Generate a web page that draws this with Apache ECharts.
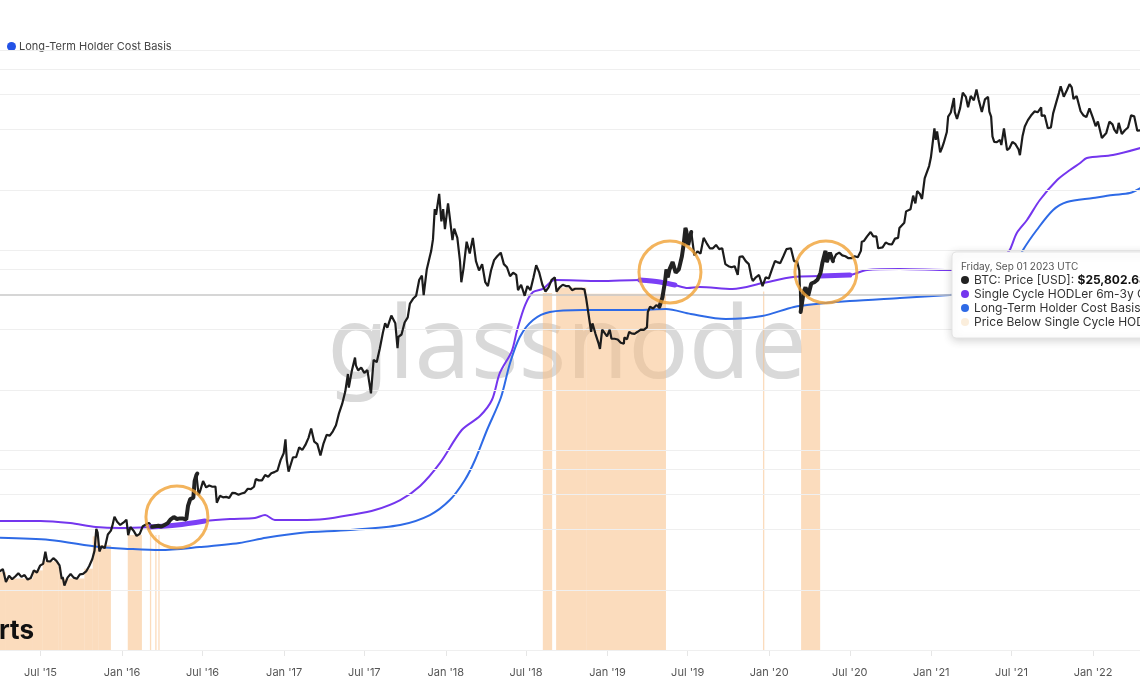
<!DOCTYPE html>
<html><head><meta charset="utf-8">
<script src="https://cdn.jsdelivr.net/npm/echarts@6/dist/echarts.min.js"></script>
<style>html,body{margin:0;padding:0;background:#fff}#c{width:1140px;height:694px}</style>
</head><body><div id="c"></div>
<script>
// ---- data ----
const btcPrice = [
['2015-03-31',247],['2015-04-07',254],['2015-04-14',219],['2015-04-21',235],['2015-04-28',226],['2015-05-05',233],['2015-05-12',242],['2015-05-19',232],['2015-05-26',237],['2015-06-02',225],['2015-06-09',229],['2015-06-16',250],['2015-06-23',244],['2015-06-30',264],['2015-07-07',270],['2015-07-12',310],['2015-07-16',278],['2015-07-23',277],['2015-07-30',288],['2015-08-06',279],['2015-08-13',265],['2015-08-18',226],['2015-08-20',232],['2015-08-24',210],['2015-08-31',230],['2015-09-07',240],['2015-09-14',230],['2015-09-21',227],['2015-09-28',239],['2015-10-05',240],['2015-10-12',247],['2015-10-19',263],['2015-10-26',285],['2015-10-31',314],['2015-11-04',403],['2015-11-07',386],['2015-11-11',311],['2015-11-16',330],['2015-11-23',323],['2015-11-30',378],['2015-12-07',395],['2015-12-10',416],['2015-12-15',464],['2015-12-21',438],['2015-12-28',422],
['2016-01-04',433],['2016-01-11',448],['2016-01-15',375],['2016-01-20',412],['2016-01-27',395],['2016-02-03',372],['2016-02-10',381],['2016-02-17',416],['2016-02-24',424],['2016-03-02',432],['2016-03-09',413],['2016-03-16',416],['2016-03-23',418],['2016-03-30',414],['2016-04-06',422],['2016-04-13',430],['2016-04-20',450],['2016-04-27',462],['2016-05-04',452],['2016-05-11',455],['2016-05-18',454],['2016-05-25',449],['2016-05-29',525],['2016-06-03',568],['2016-06-10',577],['2016-06-13',700],['2016-06-17',750],['2016-06-19',763],['2016-06-22',594],['2016-06-26',630],['2016-07-02',700],['2016-07-09',650],['2016-07-16',664],['2016-07-23',655],['2016-07-30',656],['2016-08-02',545],['2016-08-09',590],['2016-08-16',580],['2016-08-23',583],['2016-08-30',576],['2016-09-06',610],['2016-09-13',608],['2016-09-20',598],['2016-09-27',606],['2016-10-04',612],['2016-10-11',640],['2016-10-18',637],['2016-10-25',655],['2016-10-29',715],['2016-11-05',705],['2016-11-12',705],['2016-11-19',750],['2016-11-26',735],['2016-12-03',765],['2016-12-10',775],['2016-12-17',790],['2016-12-24',890],['2016-12-31',963],
['2017-01-04',1130],['2017-01-07',890],['2017-01-11',780],['2017-01-14',820],['2017-01-21',920],['2017-01-28',920],['2017-02-04',1030],['2017-02-11',1000],['2017-02-18',1060],['2017-02-25',1150],['2017-03-03',1280],['2017-03-10',1100],['2017-03-17',1070],['2017-03-24',940],['2017-03-31',1080],['2017-04-07',1190],['2017-04-14',1180],['2017-04-21',1240],['2017-04-28',1330],['2017-05-05',1530],['2017-05-12',1700],['2017-05-19',1960],['2017-05-25',2400],['2017-05-27',2050],['2017-06-03',2500],['2017-06-10',2900],['2017-06-12',2650],['2017-06-17',2500],['2017-06-24',2580],['2017-07-01',2430],['2017-07-08',2510],['2017-07-16',1920],['2017-07-22',2820],['2017-07-29',2750],['2017-08-05',3220],['2017-08-12',3870],['2017-08-17',4300],['2017-08-22',4090],['2017-08-31',4700],['2017-09-09',4300],['2017-09-14',3230],['2017-09-16',3680],['2017-09-23',3780],['2017-09-30',4340],['2017-10-07',4600],['2017-10-12',5400],['2017-10-19',5700],['2017-10-26',5900],['2017-11-02',7100],['2017-11-08',7450],['2017-11-12',5950],['2017-11-19',8000],['2017-11-26',9300],['2017-11-29',9900],['2017-12-03',11300],['2017-12-07',16000],['2017-12-10',15000],['2017-12-17',19100],['2017-12-22',13900],['2017-12-26',16000],['2017-12-30',12700],
['2018-01-06',17100],['2018-01-10',14500],['2018-01-16',11200],['2018-01-20',12800],['2018-01-27',11500],['2018-02-02',8800],['2018-02-05',6900],['2018-02-10',8100],['2018-02-17',11000],['2018-02-24',9600],['2018-03-03',11500],['2018-03-10',8800],['2018-03-17',7900],['2018-03-24',8500],['2018-03-31',6900],['2018-04-06',6600],['2018-04-13',7900],['2018-04-20',8900],['2018-04-27',9300],['2018-05-05',9700],['2018-05-12',8500],['2018-05-19',8200],['2018-05-26',7400],['2018-06-02',7700],['2018-06-09',7500],['2018-06-13',6300],['2018-06-20',6700],['2018-06-28',5900],['2018-07-04',6600],['2018-07-11',6300],['2018-07-18',7300],['2018-07-24',8400],['2018-07-31',7700],['2018-08-07',6700],['2018-08-14',6200],['2018-08-21',6500],['2018-08-28',7100],['2018-09-04',7300],['2018-09-08',6200],['2018-09-15',6500],['2018-09-22',6700],['2018-09-29',6600],['2018-10-06',6600],['2018-10-13',6300],['2018-10-20',6400],['2018-10-27',6400],['2018-11-03',6400],['2018-11-10',6350],['2018-11-14',5700],['2018-11-19',4800],['2018-11-25',3900],['2018-11-28',4300],['2018-12-05',3800],['2018-12-12',3400],['2018-12-15',3200],['2018-12-20',4000],['2018-12-24',4000],['2018-12-31',3700],
['2019-01-06',4000],['2019-01-10',3600],['2019-01-17',3600],['2019-01-24',3570],['2019-01-31',3440],['2019-02-07',3400],['2019-02-08',3650],['2019-02-14',3580],['2019-02-19',3900],['2019-02-24',3830],['2019-03-03',3810],['2019-03-10',3900],['2019-03-17',4000],['2019-03-24',3990],['2019-03-31',4100],['2019-04-02',4900],['2019-04-07',5200],['2019-04-14',5100],['2019-04-21',5300],['2019-04-28',5200],['2019-05-05',5800],['2019-05-11',7000],['2019-05-14',8000],['2019-05-17',7300],['2019-05-21',8000],['2019-05-28',8700],['2019-06-04',7700],['2019-06-11',8000],['2019-06-18',9300],['2019-06-22',10700],['2019-06-26',12900],['2019-06-28',12400],['2019-07-02',10600],['2019-07-09',12300],['2019-07-16',9400],['2019-07-23',9850],['2019-07-30',9600],['2019-08-06',11500],['2019-08-13',10800],['2019-08-20',10200],['2019-08-27',10200],['2019-09-03',10600],['2019-09-10',10100],['2019-09-17',10200],['2019-09-24',8500],['2019-10-01',8300],['2019-10-08',8200],['2019-10-15',8300],['2019-10-22',7500],['2019-10-26',9250],['2019-11-02',9300],['2019-11-09',8800],['2019-11-16',8500],['2019-11-22',7300],['2019-11-25',7000],['2019-12-02',7300],['2019-12-09',7500],['2019-12-17',6600],['2019-12-24',7300],['2019-12-31',7200],
['2020-01-03',7300],['2020-01-08',8100],['2020-01-14',8800],['2020-01-19',8700],['2020-01-26',8600],['2020-02-02',9300],['2020-02-09',10100],['2020-02-13',10300],['2020-02-19',10200],['2020-02-26',8800],['2020-03-04',8750],['2020-03-09',7900],['2020-03-12',4900],['2020-03-16',5000],['2020-03-19',6200],['2020-03-23',6500],['2020-03-29',5900],['2020-04-05',6800],['2020-04-12',6900],['2020-04-19',7100],['2020-04-26',7700],['2020-04-30',8600],['2020-05-07',9900],['2020-05-10',8700],['2020-05-17',9700],['2020-05-24',8800],['2020-05-31',9500],['2020-06-07',9700],['2020-06-14',9400],['2020-06-21',9300],['2020-06-28',9100],['2020-07-05',9100],['2020-07-12',9300],['2020-07-19',9200],['2020-07-26',9900],['2020-07-28',11000],['2020-08-02',11100],['2020-08-09',11700],['2020-08-17',12300],['2020-08-23',11700],['2020-08-30',11700],['2020-09-03',10200],['2020-09-06',10250],['2020-09-13',10300],['2020-09-20',10900],['2020-09-27',10700],['2020-10-04',10650],['2020-10-11',11400],['2020-10-18',11500],['2020-10-21',12900],['2020-10-25',13000],['2020-11-01',13700],['2020-11-05',15600],['2020-11-08',15500],['2020-11-15',16000],['2020-11-21',18700],['2020-11-26',17100],['2020-11-30',19700],['2020-12-06',19100],['2020-12-11',18000],['2020-12-17',22800],['2020-12-20',23800],['2020-12-27',26300],['2020-12-31',29000],
['2021-01-03',32800],['2021-01-08',40600],['2021-01-11',35500],['2021-01-14',39200],['2021-01-21',30800],['2021-01-25',32300],['2021-01-29',34300],['2021-02-05',38900],['2021-02-08',46400],['2021-02-14',48700],['2021-02-21',57500],['2021-02-23',48900],['2021-02-28',45200],['2021-03-07',51200],['2021-03-13',61200],['2021-03-20',58300],['2021-03-25',51700],['2021-03-31',58900],['2021-04-07',56000],['2021-04-13',63500],['2021-04-18',56200],['2021-04-25',49000],['2021-05-02',56600],['2021-05-09',58300],['2021-05-12',49200],['2021-05-16',46400],['2021-05-19',37000],['2021-05-23',34700],['2021-05-29',34600],['2021-06-05',35500],['2021-06-08',33500],['2021-06-14',40500],['2021-06-21',31600],['2021-06-26',32200],['2021-07-03',34700],['2021-07-10',33800],['2021-07-17',31800],['2021-07-20',29800],['2021-07-26',37200],['2021-07-31',41500],['2021-08-07',44600],['2021-08-14',47000],['2021-08-22',49300],['2021-08-29',48800],['2021-09-06',51700],['2021-09-07',46800],['2021-09-14',47100],['2021-09-21',40600],['2021-09-28',41000],['2021-10-03',48200],['2021-10-10',54700],['2021-10-16',60900],['2021-10-20',65900],['2021-10-27',58400],['2021-11-03',62900],['2021-11-09',67500],['2021-11-14',65000],['2021-11-18',56900],['2021-11-25',58900],['2021-11-29',57800],['2021-12-04',49400],['2021-12-10',47200],['2021-12-17',46200],['2021-12-24',51000],['2021-12-31',46300],
['2022-01-07',41600],['2022-01-12',43900],['2022-01-21',36300],['2022-01-24',36700],['2022-01-31',38500],['2022-02-07',43800],['2022-02-10',43600],['2022-02-14',42500],['2022-02-18',40000],['2022-02-24',38300],['2022-02-28',43200],['2022-03-07',38000],['2022-03-14',39700],['2022-03-21',41000],['2022-03-28',47100],['2022-04-04',46600],['2022-04-11',39500],['2022-04-18',39700]
];

const singleCycleCostBasis = [
['2015-03-31',442],['2015-07-01',442],['2015-09-06',431],['2015-11-03',412],['2015-12-27',407],['2016-03-04',412],['2016-05-04',422],['2016-07-06',442],['2016-09-01',452],['2016-10-27',457],['2016-11-19',473],['2016-12-11',447],['2017-02-06',447],['2017-04-03',452],['2017-05-30',473],['2017-07-25',501],['2017-09-20',562],['2017-11-04',661],['2017-12-19',862],['2018-02-06',1259],['2018-03-19',1479],['2018-04-15',1778],['2018-05-03',2427],['2018-05-30',3126],['2018-06-11',3981],['2018-06-29',5308],['2018-07-17',6166],['2018-08-08',6387],['2018-09-04',7079],['2018-12-15',6998],['2019-03-15',7079],['2019-04-29',6918],['2019-06-02',6683],['2019-07-01',6457],['2019-07-28',6531],['2019-10-10',6382],['2019-12-18',6839],['2020-02-24',7328],['2020-04-25',7413],['2020-07-01',7499],['2020-08-09',7943],['2020-10-22',8035],['2021-02-12',7943],['2021-05-13',8414],['2021-06-16',9441],['2021-06-27',10000],['2021-07-13',12162],['2021-08-05',14125],['2021-09-03',17783],['2021-10-12',22387],['2021-11-10',25119],['2021-12-03',27227],['2021-12-18',28840],['2022-02-15',29854],['2022-04-18',32359]
];

const lthCostBasis = [
['2015-03-31',364],['2015-07-22',355],['2015-11-11',327],['2016-01-19',320],['2016-03-27',316],['2016-06-24',327],['2016-09-22',343],['2016-11-21',364],['2017-02-06',385],['2017-05-30',398],['2017-09-20',422],['2017-11-26',473],['2018-01-10',562],['2018-02-13',708],['2018-03-08',891],['2018-04-04',1259],['2018-05-05',1820],['2018-05-26',2723],['2018-06-17',3673],['2018-07-17',4467],['2018-08-24',4898],['2018-11-07',5012],['2019-03-09',5012],['2019-05-13',5070],['2019-07-08',4786],['2019-09-25',4519],['2019-12-16',4677],['2020-02-26',5188],['2020-04-16',5370],['2020-07-01',5559],['2020-10-22',5754],['2021-02-12',5957],['2021-05-13',6166],['2021-06-27',7499],['2021-07-27',10000],['2021-08-27',12589],['2021-10-03',15849],['2021-11-03',17378],['2022-01-01',18197],['2022-02-15',18836],['2022-03-25',19275],['2022-04-18',20417]
];

// [start, end, top value] of the "price below single cycle cost basis" columns
const belowCostBasisRanges = [
['2015-03-31','2015-04-14',245],['2015-04-14','2015-06-14',228],['2015-06-14','2015-07-06',250],['2015-07-06','2015-08-10',278],['2015-08-10','2015-08-17',260],['2015-08-17','2015-10-08',228],['2015-10-08','2015-10-27',255],['2015-10-27','2015-11-09',370],['2015-11-09','2015-12-07',335],
['2016-01-14','2016-02-15',376],['2016-03-04','2016-03-05',376],['2016-03-16','2016-03-17',376],['2016-03-23','2016-03-24',376],
['2018-08-08','2018-08-29',6100],['2018-09-07','2018-11-14',6500],['2018-11-14','2019-05-13',6050],
['2019-12-18','2019-12-19',6200],['2020-03-13','2020-04-25',5400]
];

const yGridValues = [100,200,400,600,800,1000,2000,4000,8000,10000,20000,40000,60000,80000,100000];
const crosshairValue = 6000;
const annotationPoints = [['2016-05-04',462],['2019-05-22',7762],['2020-05-08',7762]];
const purpleHighlightRanges = [['2016-03-04','2016-07-06'],['2019-03-15','2019-06-20'],['2020-03-10','2020-07-06']];
const priceHighlightRanges = [['2016-03-09','2016-06-19'],['2019-04-28','2019-07-12'],['2020-03-12','2020-05-25']];
const monthNames = ['Jan','Feb','Mar','Apr','May','Jun','Jul','Aug','Sep','Oct','Nov','Dec'];

// ---- helpers ----
const T = s => Date.parse(s);
const toPts = arr => arr.map(d => [T(d[0]), d[1]]);
function within(arr, ranges){
  const out = [];
  ranges.forEach(r => {
    const a = T(r[0]), b = T(r[1]);
    arr.forEach(d => { const t = T(d[0]); if (t >= a && t <= b) out.push([t, d[1]]); });
    out.push([ (a+b)/2, null ]);
  });
  return out;
}
const xMin = Date.UTC(2015,2,31,14);
const xMax = Date.UTC(2022,3,17,2);
const yMin = 100, yMax = 100000;
const C = {price:'#1c1c1c', purple:'#7436ee', blue:'#2e6ae6', bar:'rgba(248,192,134,0.55)', ring:'#f0a134'};
const FONT = 'Inter, "Noto Sans", sans-serif';
const TT = {fontSize:12, fontFamily:'Inter', fill:'#333', verticalAlign:'middle', textVerticalAlign:'middle'};

const chart = echarts.init(document.getElementById('c'), null, {renderer:'canvas'});
chart.setOption({
  animation:false,
  useUTC:true,
  backgroundColor:'#fff',
  grid:{left:0,right:0,top:50,bottom:44},
  legend:{
    data:['Long-Term Holder Cost Basis'], left:2, top:36, icon:'circle', itemWidth:9, itemHeight:9, itemGap:10,
    textStyle:{fontSize:11,color:'#444',fontFamily:FONT, padding:[0,0,0,-2]}, selectedMode:false
  },
  xAxis:{
    type:'time', min:xMin, max:xMax,
    minInterval:180*864e5, maxInterval:186*864e5,
    axisLine:{show:true,lineStyle:{color:'#e6e6e6'}},
    axisTick:{show:true,length:6,lineStyle:{color:'#e6e6e6'}},
    splitLine:{show:false},
    axisLabel:{
      color:'#555', fontSize:11, fontFamily:FONT, margin:17,
      formatter: v => { const d = new Date(v); return monthNames[d.getUTCMonth()] + " '" + String(d.getUTCFullYear()).slice(2); }
    }
  },
  yAxis:{type:'log', logBase:10, min:yMin, max:yMax, axisLabel:{show:false}, axisLine:{show:false}, axisTick:{show:false}, splitLine:{show:false}},
  graphic:[
    {type:'text', x:567, y:350, z:0, silent:true, style:{text:'glassnode', fontSize:100, fontFamily:'"Noto Sans", "Open Sans", sans-serif', fontWeight:'normal', fill:'#d9d9d9', align:'center', verticalAlign:'middle', textAlign:'center', textVerticalAlign:'middle'}},
    {type:'text', x:-1, y:631, z:50, silent:true, style:{text:'rts', fontSize:26, fontWeight:'bold', fontFamily:'Inter', fill:'#111', verticalAlign:'middle', textVerticalAlign:'middle'}},
    {type:'group', x:952, y:252, z:100, children:[
      {type:'rect', z:100, shape:{x:0,y:0,width:260,height:86,r:4}, style:{fill:'#fff', stroke:'#e4e4e4', lineWidth:1, shadowBlur:10, shadowColor:'rgba(0,0,0,0.18)', shadowOffsetY:2}},
      {type:'text', z:101, x:9, y:15, style:Object.assign({}, TT, {text:'Friday, Sep 01 2023 UTC', fontSize:10, fill:'#555'})},
      {type:'circle', z:101, shape:{cx:13,cy:28,r:4}, style:{fill:'#222'}},
      {type:'circle', z:101, shape:{cx:13,cy:42,r:4}, style:{fill:C.purple}},
      {type:'circle', z:101, shape:{cx:13,cy:56,r:4}, style:{fill:C.blue}},
      {type:'circle', z:101, shape:{cx:13,cy:70,r:4}, style:{fill:'#fbeedc'}},
      {type:'text', z:101, x:22, y:28, style:Object.assign({}, TT, {text:'BTC: Price [USD]: {b|$25,802.68}', rich:{b:{fontSize:12, fontFamily:'Inter', fontWeight:'bold', fill:'#111'}}})},
      {type:'text', z:101, x:22, y:42, style:Object.assign({}, TT, {text:'Single Cycle HODLer 6m-3y Cost Basis'})},
      {type:'text', z:101, x:22, y:56, style:Object.assign({}, TT, {text:'Long-Term Holder Cost Basis'})},
      {type:'text', z:101, x:22, y:70, style:Object.assign({}, TT, {text:'Price Below Single Cycle HODLer Cost Basis'})}
    ]}
  ],
  series:[
    {
      name:'grid', type:'line', data:[[xMin, yMin]], symbol:'none', silent:true, z:0, lineStyle:{width:0},
      markLine:{
        silent:true, symbol:['none','none'], label:{show:false}, animation:false,
        lineStyle:{color:'#efefef', type:'solid', width:1},
        data: yGridValues.map(v => ({yAxis:v})).concat([{yAxis:crosshairValue, lineStyle:{color:'#c9c9c9', width:1.5, type:'solid'}}])
      }
    },
    {
      name:'Price Below Single Cycle HODLer Cost Basis', type:'custom', z:1, silent:true, clip:true,
      data: belowCostBasisRanges.map(r => [T(r[0]), T(r[1]), r[2]]),
      encode:{x:[0,1], y:2},
      renderItem:(params, api) => {
        const p0 = api.coord([api.value(0), api.value(2)]);
        const p1 = api.coord([api.value(1), yMin]);
        return {type:'rect', shape:{x:p0[0], y:p0[1], width:Math.max(p1[0]-p0[0], 1.3), height:p1[1]-p0[1]}, style:{fill:C.bar}};
      }
    },
    {name:'Long-Term Holder Cost Basis', type:'line', data:toPts(lthCostBasis), showSymbol:false, symbol:'circle', smooth:0.3, z:3, lineStyle:{color:C.blue, width:2}, itemStyle:{color:'#2352e6'}},
    {name:'Single Cycle HODLer 6m-3y Cost Basis', type:'line', data:toPts(singleCycleCostBasis), showSymbol:false, smooth:0.3, z:4, lineStyle:{color:C.purple, width:2}, itemStyle:{color:C.purple}},
    {name:'BTC: Price [USD]', type:'line', data:toPts(btcPrice), showSymbol:false, z:5, lineStyle:{color:C.price, width:2.2}, itemStyle:{color:C.price}},
    {name:'purple highlight', type:'line', data:within(singleCycleCostBasis, purpleHighlightRanges), showSymbol:false, smooth:0.3, connectNulls:false, z:6, lineStyle:{color:'#7b3ff6', width:5, cap:'round'}},
    {name:'price highlight', type:'line', data:within(btcPrice, priceHighlightRanges), showSymbol:false, connectNulls:false, z:6, lineStyle:{color:'#222', width:4, cap:'round'}},
    {name:'annotations', type:'scatter', data:toPts(annotationPoints), symbol:'circle', symbolSize:62, silent:true, z:8,
     itemStyle:{color:'rgba(0,0,0,0)', borderColor:C.ring, borderWidth:3}}
  ]
});
</script></body></html>
